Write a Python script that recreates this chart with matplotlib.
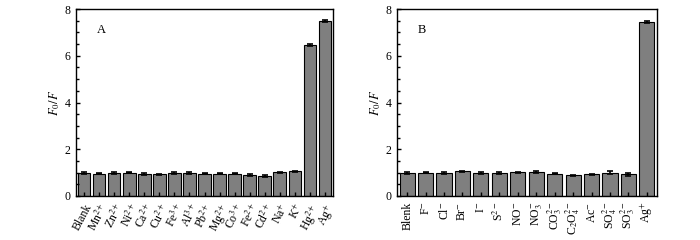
import numpy as np
import matplotlib
matplotlib.use("Agg")
import matplotlib.pyplot as plt

plt.rcParams['font.family'] = ['Liberation Serif', 'DejaVu Serif']
plt.rcParams['mathtext.fontset'] = 'stix'

# panel A: cations
labels_a = ['Blank', 'Mn$^{2+}$', 'Zn$^{2+}$', 'Ni$^{2+}$', 'Ca$^{2+}$', 'Cu$^{2+}$',
            'Fe$^{3+}$', 'Al$^{3+}$', 'Pb$^{2+}$', 'Mg$^{2+}$', 'Co$^{3+}$', 'Fe$^{2+}$',
            'Cd$^{2+}$', 'Na$^{+}$', 'K$^{+}$', 'Hg$^{2+}$', 'Ag$^{+}$']
values_a = [0.97, 0.96, 0.97, 1.00, 0.94, 0.92, 0.97, 0.98, 0.95, 0.95, 0.96,
            0.88, 0.86, 1.02, 1.05, 6.45, 7.48]
errors_a = [0.04, 0.03, 0.04, 0.03, 0.04, 0.04, 0.04, 0.03, 0.03, 0.03, 0.04,
            0.04, 0.03, 0.02, 0.03, 0.04, 0.05]

# panel B: anions
labels_b = ['Blenk', 'F$^{-}$', 'Cl$^{-}$', 'Br$^{-}$', 'I$^{-}$', 'S$^{2-}$', 'NO$^{-}$',
            'NO$_3^{-}$', 'CO$_3^{2-}$', 'C$_2$O$_4^{2-}$', 'Ac$^{-}$', 'SO$_4^{2-}$',
            'SO$_3^{2-}$', 'Ag$^{+}$']
values_b = [0.97, 0.99, 1.00, 1.05, 0.99, 0.99, 1.01, 1.02, 0.96, 0.89, 0.93,
            1.00, 0.92, 7.45]
errors_b = [0.04, 0.02, 0.04, 0.03, 0.04, 0.03, 0.03, 0.03, 0.03, 0.02, 0.02,
            0.08, 0.07, 0.05]

fig = plt.figure(figsize=(7, 2.4), dpi=100)
ax_a = fig.add_axes([76/700, 1 - 196/240, 257/700, 187/240])
ax_b = fig.add_axes([397/700, 1 - 196/240, 260/700, 187/240])


def draw(ax, labels, values, errors, tag, rot):
    x = np.arange(len(values))
    ax.bar(x, values, width=0.82, color='#7f7f7f', edgecolor='black', linewidth=0.8,
           yerr=errors, error_kw=dict(ecolor='black', elinewidth=1.2, capsize=2.5, capthick=1.2))
    ax.set_xlim(-0.55, len(values) - 0.45)
    ax.set_ylim(0, 8)
    ax.set_yticks([0, 2, 4, 6, 8])
    ax.set_yticks(np.arange(0, 8.01, 0.5), minor=True)
    ax.set_xticks(x)
    if rot == 90:
        ax.set_xticklabels(labels, rotation=90, ha='center', va='top')
    else:
        ax.set_xticklabels(labels, rotation=rot, ha='right', va='top', rotation_mode='anchor')
    ax.tick_params(axis='both', direction='in', labelsize=8.5, length=3, width=1, pad=4)
    ax.tick_params(axis='y', which='minor', direction='in', length=2.5, width=1)
    ax.tick_params(axis='x', which='minor', bottom=False)
    for s in ax.spines.values():
        s.set_linewidth(1.0)
    ax.set_ylabel('$F_0/F$', fontsize=9, labelpad=2)
    ax.text(0.08, 0.92, tag, transform=ax.transAxes, fontsize=9, va='top', ha='left')


draw(ax_a, labels_a, values_a, errors_a, 'A', 62)
draw(ax_b, labels_b, values_b, errors_b, 'B', 90)

fig.savefig('out.png', dpi=100)
